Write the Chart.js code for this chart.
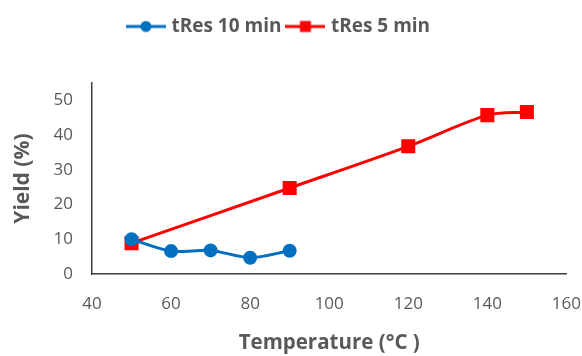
<canvas id="myChart" width="582" height="356"></canvas>

<script src="https://cdn.jsdelivr.net/npm/chart.js"></script>

<style>
    body { margin: 0; background: #fff; }
    #myChart { display: block; }
</style>

<script>
    const temps10 = [50, 60, 70, 80, 90];
    const yield10 = [10, 6.6, 6.8, 4.7, 6.7];
    const temps5 = [50, 90, 120, 140, 150];
    const yield5 = [8.9, 24.8, 36.8, 45.8, 46.7];
    const xTicks = [40, 60, 80, 100, 120, 140, 160];
    const yTicks = [0, 10, 20, 30, 40, 50];

    const blue = '#0070C0';
    const red = '#FF0000';
    const textGrey = '#595959';
    const font = "'Open Sans', sans-serif";

    // legend swatch: short line with the marker in the middle
    const makeSwatch = (color, shape) => {
        const c = document.createElement('canvas');
        c.width = 40;
        c.height = 14;
        const g = c.getContext('2d');
        g.strokeStyle = color;
        g.lineWidth = 3;
        g.beginPath();
        g.moveTo(0, 7);
        g.lineTo(40, 7);
        g.stroke();
        g.fillStyle = color;
        if (shape === 'circle') {
            g.beginPath();
            g.arc(20, 7, 5.5, 0, Math.PI * 2);
            g.fill();
        } else {
            g.fillRect(14.5, 1.5, 11, 11);
        }
        return c;
    };

    const toPoints = (xs, ys) => xs.map((x, i) => ({x: x, y: ys[i]}));

    // the legend sits a bit left of the canvas centre in the original
    const legendShift = {
        id: 'legendShift',
        afterUpdate(chart) {
            chart.legend.left -= 16;
            chart.legend.right -= 16;
        }
    };

    const ctx = document.getElementById('myChart');

    new Chart(ctx, {
        type: 'line',
        data: {
            datasets: [{
                label: 'tRes 10 min',
                data: toPoints(temps10, yield10),
                borderColor: blue,
                backgroundColor: blue,
                borderWidth: 3,
                pointStyle: 'circle',
                pointRadius: 5.5,
                tension: 0.3,
                legendSwatch: makeSwatch(blue, 'circle')
            }, {
                label: 'tRes 5 min',
                data: toPoints(temps5, yield5),
                borderColor: red,
                backgroundColor: red,
                borderWidth: 3,
                pointStyle: 'rect',
                pointRadius: 7.8,
                tension: 0.3,
                legendSwatch: makeSwatch(red, 'rect')
            }]
        },
        options: {
            responsive: false,
            animation: false,
            layout: { padding: { top: 9, right: 0, left: 10, bottom: 0 } },
            plugins: {
                legend: {
                    position: 'top',
                    labels: {
                        usePointStyle: true,
                        pointStyleWidth: 32,
                        color: textGrey,
                        padding: 8,
                        font: { family: font, size: 19, weight: 'bold' },
                        generateLabels: chart => chart.data.datasets.map((ds, i) => ({
                            text: ds.label,
                            pointStyle: ds.legendSwatch,
                            fontColor: textGrey,
                            datasetIndex: i,
                            lineWidth: 0
                        }))
                    }
                },
                title: {
                    display: true,
                    text: '',
                    position: 'top',
                    weight: 500,
                    padding: 0,
                    font: { size: 31 }
                },
                tooltip: { enabled: false }
            },
            scales: {
                x: {
                    type: 'linear',
                    min: 40,
                    max: 160,
                    afterBuildTicks: scale => { scale.ticks = xTicks.map(v => ({value: v})); },
                    afterFit: scale => { scale.height = 82; },
                    // invisible tick marks give the label gap without widening the side padding
                    grid: { display: false, drawTicks: true, tickLength: 19 },
                    border: { color: '#404040', width: 1.5 },
                    ticks: {
                        color: textGrey,
                        padding: 1,
                        font: { family: font, size: 17 }
                    },
                    title: {
                        display: true,
                        text: 'Temperature (°C )',
                        color: textGrey,
                        padding: { top: 12, bottom: 1 },
                        font: { family: font, size: 20.5, weight: 'bold' }
                    }
                },
                y: {
                    min: 0,
                    max: 55,
                    afterBuildTicks: scale => { scale.ticks = yTicks.map(v => ({value: v})); },
                    afterFit: scale => { scale.width = 82; },
                    grid: { display: false, drawTicks: true, tickLength: 18 },
                    border: { color: '#404040', width: 1.5 },
                    ticks: {
                        color: textGrey,
                        padding: 1,
                        font: { family: font, size: 17 }
                    },
                    title: {
                        display: true,
                        text: 'Yield (%)',
                        color: textGrey,
                        padding: { top: 0, bottom: 0 },
                        font: { family: font, size: 21, weight: 'bold' }
                    }
                }
            }
        },
        plugins: [legendShift]
    });
</script>
